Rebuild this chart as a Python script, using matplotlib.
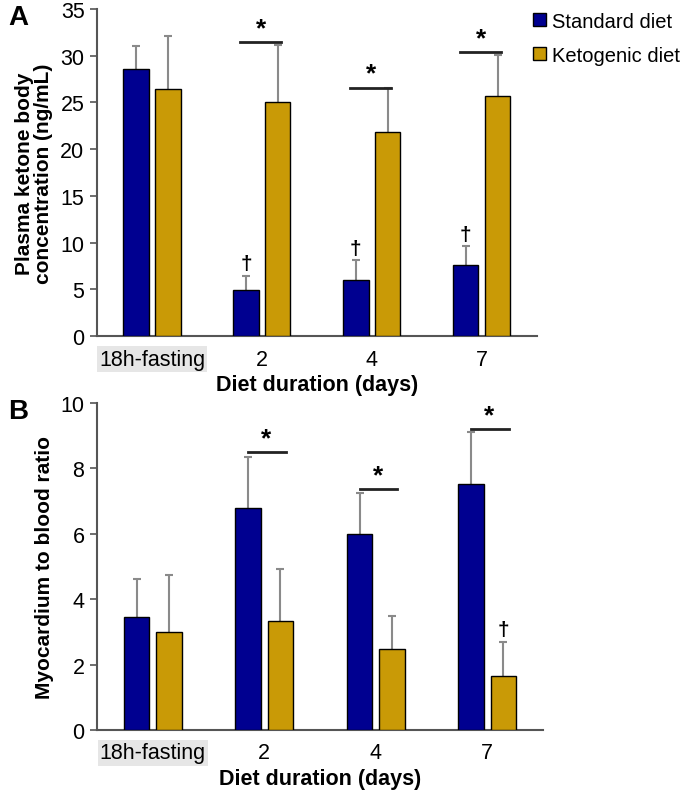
import numpy as np
import matplotlib
matplotlib.use('Agg')
import matplotlib.pyplot as plt

plt.rcParams['font.family'] = ['Liberation Sans', 'DejaVu Sans']

groups = ['18h-fasting', '2', '4', '7']
series = ['Standard diet', 'Ketogenic diet']

# panel A: plasma ketone body concentration
ketone_std = [28.6, 4.9, 6.0, 7.6]
ketone_std_err = [2.4, 1.5, 2.1, 2.0]
ketone_keto = [26.4, 25.1, 21.8, 25.7]
ketone_keto_err = [5.7, 6.1, 4.7, 4.4]
ketone_sig = [None, 31.5, 26.6, 30.4]      # height of the * line
ketone_dagger_std = [False, True, True, True]

# panel B: myocardium to blood ratio
ratio_std = [3.47, 6.79, 5.98, 7.51]
ratio_std_err = [1.16, 1.55, 1.26, 1.59]
ratio_keto = [3.0, 3.34, 2.49, 1.65]
ratio_keto_err = [1.74, 1.57, 1.0, 1.04]
ratio_sig = [None, 8.49, 7.37, 9.2]
ratio_dagger_keto = [False, False, False, True]

blue = '#000090'
gold = '#C99A06'
grey = '#555555'
err_col = '#8a8a8a'

fig = plt.figure(figsize=(6.85, 8.03), dpi=100)
axA = fig.add_axes([0.1416, 0.5803, 0.642, 0.4072])
axB = fig.add_axes([0.1416, 0.0897, 0.651, 0.4072])

x = np.arange(len(groups))
w = 0.23
off = 0.145


def upper_err(ax, xs, ys, err):
    zeros = [0] * len(xs)
    _, caps, _ = ax.errorbar(xs, ys, yerr=[zeros, err], fmt='none', ecolor=err_col,
                             elinewidth=1.5, capsize=3, capthick=1.5, zorder=2)
    caps[0].set_visible(False)  # no cap at the bar top


def draw(ax, std, std_err, keto, keto_err, ymax, ystep, ylabel):
    ax.bar(x - off, std, w, color=blue, edgecolor='black', linewidth=1.0,
           label=series[0], zorder=3)
    ax.bar(x + off, keto, w, color=gold, edgecolor='black', linewidth=1.0,
           label=series[1], zorder=3)
    upper_err(ax, x - off, std, std_err)
    upper_err(ax, x + off, keto, keto_err)
    ax.set_xlim(-0.5, 3.5)
    ax.set_ylim(0, ymax)
    ax.set_yticks(np.arange(0, ymax + 0.01, ystep))
    ax.set_xticks(x)
    ax.set_xticklabels(groups)
    ax.tick_params(axis='y', labelsize=15.5, length=5, color=grey, width=1.2, pad=4)
    ax.tick_params(axis='x', labelsize=15.5, length=0, pad=9)
    ax.get_xticklabels()[0].set_bbox(dict(facecolor='#e6e6e6', edgecolor='none', pad=1.5))
    for s in ['top', 'right']:
        ax.spines[s].set_visible(False)
    for s in ['left', 'bottom']:
        ax.spines[s].set_color(grey)
        ax.spines[s].set_linewidth(1.5)
    ax.set_ylabel(ylabel, fontsize=15, fontweight='bold', labelpad=5, linespacing=1.0)
    ax.set_xlabel('Diet duration (days)', fontsize=15.5, fontweight='bold', labelpad=3)


draw(axA, ketone_std, ketone_std_err, ketone_keto, ketone_keto_err, 35, 5,
     'Plasma ketone body\nconcentration (ng/mL)')
draw(axB, ratio_std, ratio_std_err, ratio_keto, ratio_keto_err, 10, 2,
     'Myocardium to blood ratio')

# significance marks panel A
for i, h in enumerate(ketone_sig):
    if h is None:
        continue
    axA.plot([x[i] - off - 0.05, x[i] + off + 0.03], [h, h], color='#222222', lw=2, zorder=4)
    axA.text(x[i] - 0.01, h + 0.2, '*', ha='center', va='bottom', fontsize=19, fontweight='bold')
for i, d in enumerate(ketone_dagger_std):
    if d:
        axA.text(x[i] - off, ketone_std[i] + ketone_std_err[i] + 0.3, '†',
                 ha='center', va='bottom', fontsize=15, fontweight='bold')

# significance marks panel B
for i, h in enumerate(ratio_sig):
    if h is None:
        continue
    axB.plot([x[i] - off, x[i] + off + 0.05], [h, h], color='#222222', lw=2, zorder=4)
    axB.text(x[i] + 0.02, h + 0.05, '*', ha='center', va='bottom', fontsize=19, fontweight='bold')
for i, d in enumerate(ratio_dagger_keto):
    if d:
        axB.text(x[i] + off, ratio_keto[i] + ratio_keto_err[i] + 0.1, '†',
                 ha='center', va='bottom', fontsize=15, fontweight='bold')

axA.legend(loc='upper left', bbox_to_anchor=(0.96, 1.035), frameon=False, fontsize=14.5,
           handlelength=0.65, handleheight=0.65, handletextpad=0.3, labelspacing=0.75,
           borderpad=0.2)

fig.text(0.012, 0.977, 'A', fontsize=20, fontweight='bold', va='center')
fig.text(0.012, 0.487, 'B', fontsize=20, fontweight='bold', va='center')

fig.savefig('out.png', dpi=100)
